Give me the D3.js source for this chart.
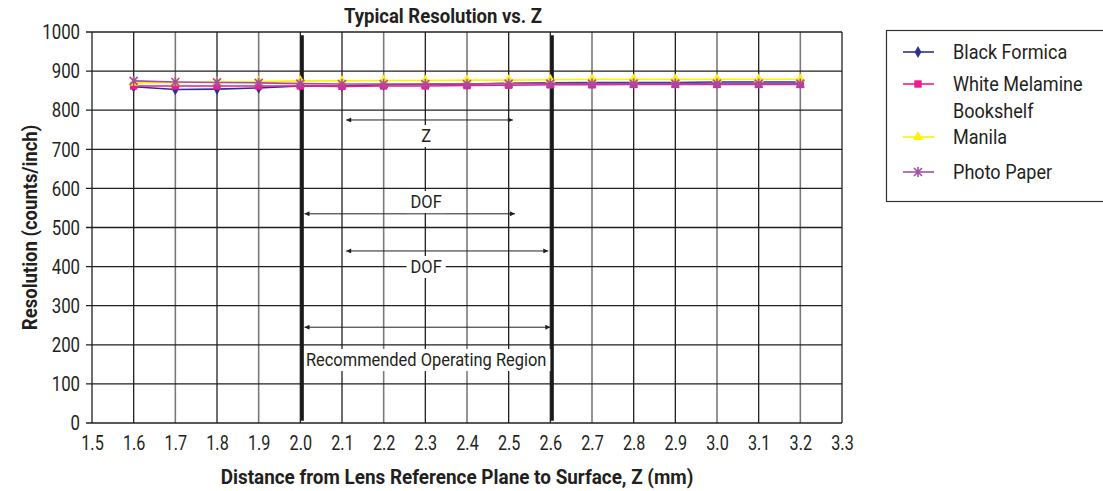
<!DOCTYPE html>
<html><head><meta charset="utf-8">
<script src="https://cdn.jsdelivr.net/npm/d3@7"></script>
<style>
body{margin:0;background:#fff;}
svg text{font-family:"Roboto","Liberation Sans",sans-serif;fill:#231f20;}
</style></head><body>
<svg id="c" width="1103" height="491"></svg>
<script>
const xValues = [1.6,1.7,1.8,1.9,2.0,2.1,2.2,2.3,2.4,2.5,2.6,2.7,2.8,2.9,3.0,3.1,3.2];
const blackFormica = [860,853,854,857,862,862,865,866,867,869,870,871,871,871,872,872,872];
const whiteMelamine = [862,862,862,862,862,861,862,862,863,864,865,865,866,866,866,866,866];
const manila = [870,871,872,873,875,875,876,876,877,877,878,879,879,879,879,879,879];
const photoPaper = [875,872,871,870,868,867,867,867,867,868,868,868,868,868,868,868,868];
const xTicks = [1.5,1.6,1.7,1.8,1.9,2.0,2.1,2.2,2.3,2.4,2.5,2.6,2.7,2.8,2.9,3.0,3.1,3.2,3.3];
const yTicks = [0,100,200,300,400,500,600,700,800,900,1000];
const lightGrid = [1.7,1.9,2.2,2.4,2.7,3.0,3.2];
const regionBounds = [2.0, 2.6];
const arrows = [
  {from:2.11, to:2.51, y:775, label:"Z", labelY:734},
  {from:2.01, to:2.515, y:535, label:"DOF", labelY:565},
  {from:2.11, to:2.595, y:440, label:"DOF", labelY:399},
  {from:2.01, to:2.6, y:245, label:"Recommended Operating Region", labelY:161}
];
const series = [
  {name:["Black Formica"], values:blackFormica, color:"#2e3192", marker:"diamond"},
  {name:["White Melamine","Bookshelf"], values:whiteMelamine, color:"#ec1c8c", marker:"square"},
  {name:["Manila"], values:manila, color:"#fff200", marker:"triangle"},
  {name:["Photo Paper"], values:photoPaper, color:"#a64ca6", marker:"star"}
];

const svg = d3.select("#c");
const x = d3.scaleLinear().domain([1.5,3.3]).range([92,842]);
const y = d3.scaleLinear().domain([0,1000]).range([423,32]);

function squeeze(sel, k){
  sel.each(function(){
    const t = d3.select(this);
    const tx = +t.attr("x")||0, ty = +t.attr("y")||0;
    t.attr("transform",`translate(${tx},${ty}) scale(${k},1) translate(${-tx},${-ty})`);
  });
}

// grid
const g = svg.append("g");
g.selectAll(".vg").data(xTicks).join("line")
  .attr("x1",d=>x(d)).attr("x2",d=>x(d)).attr("y1",y(1000)).attr("y2",y(0))
  .attr("stroke",d=> lightGrid.some(v=>Math.abs(v-d)<1e-6) ? "#7a7a7a" : "#231f20")
  .attr("stroke-width",d=> lightGrid.some(v=>Math.abs(v-d)<1e-6) ? 1.6 : 1.3);
g.selectAll(".hg").data(yTicks).join("line")
  .attr("x1",x(1.5)-6).attr("x2",x(3.3)).attr("y1",d=>y(d)).attr("y2",d=>y(d))
  .attr("stroke","#231f20").attr("stroke-width",1.3);

// axes labels
const yAxis = d3.axisLeft(y).tickValues(yTicks).tickFormat(d3.format("d")).tickSize(0).tickPadding(12);
const ya = svg.append("g").attr("transform",`translate(${x(1.5)},0)`).call(yAxis);
ya.select(".domain").remove();
ya.attr("font-family",null).attr("font-size",null);
ya.selectAll("text").attr("font-size",21).attr("fill","#231f20").call(squeeze,0.8);
const xAxis = d3.axisBottom(x).tickValues(xTicks).tickFormat(d3.format(".1f")).tickSize(0).tickPadding(12);
const xa = svg.append("g").attr("transform",`translate(0,${y(0)})`).call(xAxis);
xa.select(".domain").remove();
xa.attr("font-family",null).attr("font-size",null);
xa.selectAll("text").attr("font-size",21).attr("fill","#231f20").call(squeeze,0.77);

// arrows
const defs = svg.append("defs");
defs.append("marker").attr("id","ah").attr("viewBox","0 0 10 10").attr("refX",10).attr("refY",5)
  .attr("markerWidth",9).attr("markerHeight",5).attr("markerUnits","userSpaceOnUse")
  .attr("orient","auto-start-reverse")
  .append("path").attr("d","M0,0 L10,5 L0,10 z").attr("fill","#231f20");
arrows.forEach(a=>{
  svg.append("line").attr("x1",x(a.from)).attr("x2",x(a.to)).attr("y1",y(a.y)).attr("y2",y(a.y))
    .attr("stroke","#231f20").attr("stroke-width",1)
    .attr("marker-start","url(#ah)").attr("marker-end","url(#ah)");
  const lg = svg.append("g");
  const r = lg.append("rect").attr("fill","#fff");
  const t = lg.append("text").attr("x",x(2.302)).attr("y",y(a.labelY)).attr("text-anchor","middle")
    .attr("dominant-baseline","central").attr("font-size",17.5).text(a.label);
  t.call(squeeze,0.94);
  const w = t.node().getComputedTextLength()*0.94;
  r.attr("x",x(2.302)-w/2-4).attr("y",y(a.labelY)-11).attr("width",w+8).attr("height",22);
});

// thick region lines (drawn over label boxes)
svg.selectAll(".reg").data(regionBounds).join("line")
  .attr("x1",d=>x(d)+2).attr("x2",d=>x(d)+2).attr("y1",y(992)).attr("y2",y(6))
  .attr("stroke","#1a1a1a").attr("stroke-width",3);

// lines and markers
const line = d3.line().x((d,i)=>x(xValues[i])).y(d=>y(d));
const symbols = {diamond:d3.symbolDiamond, square:d3.symbolSquare, triangle:d3.symbolTriangle};
function drawMarker(sel, s, cx, cy){
  if(s.marker==="star"){
    const r=4;
    const p = d3.path();
    p.moveTo(cx-r,cy-r);p.lineTo(cx+r,cy+r);p.moveTo(cx-r,cy+r);p.lineTo(cx+r,cy-r);
    p.moveTo(cx,cy-r-1);p.lineTo(cx,cy+r+1);
    sel.append("path").attr("d",p.toString()).attr("stroke",s.color).attr("stroke-width",1.6).attr("fill","none");
  } else {
    const size = s.marker==="square"?55: s.marker==="triangle"?45:40;
    sel.append("path").attr("d",d3.symbol().type(symbols[s.marker]).size(size)())
      .attr("transform",`translate(${cx},${cy})`).attr("fill",s.color);
  }
}
const dataG = svg.append("g");
series.forEach(s=>{
  dataG.append("path").attr("d",line(s.values)).attr("fill","none").attr("stroke",s.color).attr("stroke-width",1.6);
  s.values.forEach((v,i)=>drawMarker(dataG,s,x(xValues[i]),y(v)));
});

// titles
svg.append("text").attr("x",443).attr("y",23).attr("text-anchor","middle").attr("font-size",19.5).attr("font-weight","bold")
  .text("Typical Resolution vs. Z").call(squeeze,0.95);
svg.append("text").attr("x",457).attr("y",484).attr("text-anchor","middle").attr("font-size",19.5).attr("font-weight","bold")
  .text("Distance from Lens Reference Plane to Surface, Z (mm)").call(squeeze,0.97);
svg.append("text").attr("transform",`translate(37,${y(500)}) rotate(-90) scale(0.95,1)`).attr("text-anchor","middle").attr("font-size",19.5).attr("font-weight","bold")
  .text("Resolution (counts/inch)");

// legend
const lgG = svg.append("g");
lgG.append("rect").attr("x",886.5).attr("y",30.5).attr("width",230).attr("height",171).attr("fill","#fff").attr("stroke","#333").attr("stroke-width",1.2);
const legY = [52,84,137,172];
series.forEach((s,i)=>{
  const yy = legY[i];
  lgG.append("line").attr("x1",903).attr("x2",934).attr("y1",yy).attr("y2",yy).attr("stroke",s.color).attr("stroke-width",1.6);
  drawMarker(lgG,s,918,yy);
  s.name.forEach((n,j)=>{
    lgG.append("text").attr("x",953).attr("y",yy+j*27).attr("dominant-baseline","central").attr("font-size",21).text(n).call(squeeze,0.86);
  });
});
</script></body></html>
